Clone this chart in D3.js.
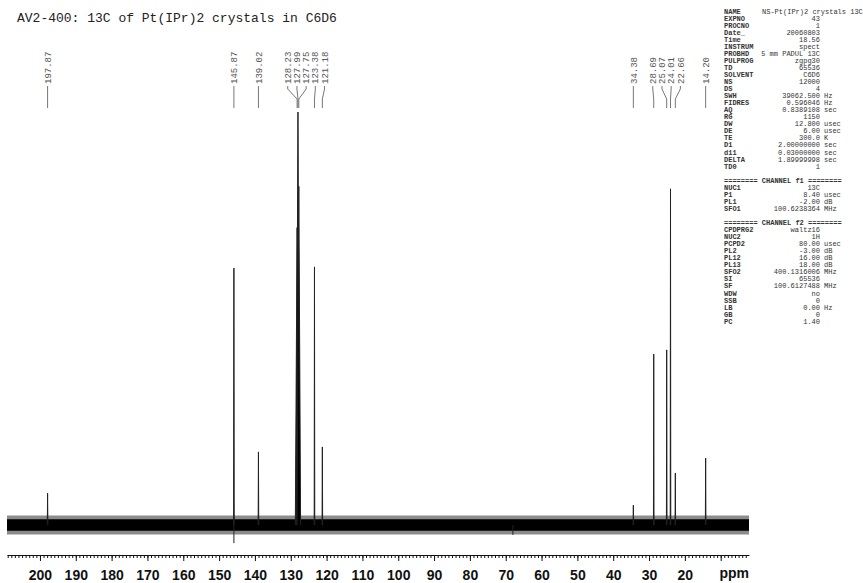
<!DOCTYPE html>
<html>
<head>
<meta charset="utf-8">
<script src="https://cdn.jsdelivr.net/npm/d3@7"></script>
<style>
	body { margin: 0; background: #fff; }
	svg { display: block; }
	.title { font-family: "Liberation Mono", monospace; font-size: 13px; fill: #222; }
	.peak-label { font-family: "Liberation Mono", monospace; font-size: 9px; fill: #555; }
	.param { font-family: "Liberation Mono", monospace; font-size: 7px; fill: #333; }
	.param-name { font-weight: bold; }
	.axis text { font-family: "Liberation Sans", Arial, sans-serif; font-size: 14px; font-weight: bold; fill: #111; }
</style>
</head>
<body>
<div id="chart"></div>
<script>
// peaks picked off the spectrum (ppm, relative intensity, half width at base in ppm)
var peakPpm    = [197.87, 145.87, 139.02, 128.23, 127.99, 127.75, 123.38, 121.18, 34.38, 28.69, 25.07, 24.01, 22.66, 14.20];
var peakHeight = [7.7, 62.2, 17.7, 72, 100, 82, 62.5, 18.9, 4.8, 41.4, 42.4, 81.4, 12.6, 16.2];
var peakWidth  = [0.08, 0.08, 0.08, 0.5, 0.5, 0.5, 0.08, 0.08, 0.08, 0.08, 0.08, 0.08, 0.08, 0.08];

// negative dips below the baseline
var dipPpm   = [145.87, 68.0];
var dipDepth = [-4.4, -2.4];

// baseline noise envelope (relative intensity)
var noiseCore = 1.4;
var noiseEdge = 2.3;

var majorTicks = [200, 190, 180, 170, 160, 150, 140, 130, 120, 110, 100, 90, 80, 70, 60, 50, 40, 30, 20, 10];
var minorTicks = d3.range(3, 210, 1);

var title = "AV2-400: 13C of Pt(IPr)2 crystals in C6D6";

// acquisition / processing parameters
var acqNames  = ["NAME", "EXPNO", "PROCNO", "Date_", "Time", "INSTRUM", "PROBHD", "PULPROG", "TD", "SOLVENT", "NS", "DS", "SWH", "FIDRES", "AQ", "RG", "DW", "DE", "TE", "D1", "d11", "DELTA", "TD0"];
var acqValues = ["NS-Pt(IPr)2 crystals 13C", "43", "1", "20060803", "18.56", "spect", "5 mm PADUL 13C", "zgpg30", "65536", "C6D6", "12000", "4", "39062.500", "0.596046", "0.8389108", "1150", "12.800", "6.00", "300.0", "2.00000000", "0.03000000", "1.89999998", "1"];
var acqUnits  = ["", "", "", "", "", "", "", "", "", "", "", "", "Hz", "Hz", "sec", "", "usec", "usec", "K", "sec", "sec", "sec", ""];

var f1Names  = ["NUC1", "P1", "PL1", "SFO1"];
var f1Values = ["13C", "8.40", "-2.00", "100.6238364"];
var f1Units  = ["", "usec", "dB", "MHz"];

var f2Names  = ["CPDPRG2", "NUC2", "PCPD2", "PL2", "PL12", "PL13", "SFO2", "SI", "SF", "WDW", "SSB", "LB", "GB", "PC"];
var f2Values = ["waltz16", "1H", "80.00", "-3.00", "16.00", "18.00", "400.1316006", "65536", "100.6127488", "no", "0", "0.00", "0", "1.40"];
var f2Units  = ["", "", "usec", "dB", "dB", "dB", "MHz", "", "MHz", "", "", "Hz", "", ""];


var canvas = {};

function addCanvas(cont) {
	canvas.width = 863;
	canvas.height = 583;
	canvas.svg = d3.select(cont).append("svg")
		.attr("width", canvas.width)
		.attr("height", canvas.height);

	canvas.x = d3.scaleLinear().domain([209.2, 2.1]).range([7, 749]);
	canvas.y = d3.scaleLinear().domain([0, 100]).range([525, 112]);
}


function drawTitle() {
	canvas.svg.append("text")
		.attr("class", "title")
		.attr("x", 17)
		.attr("y", 22)
		.text(title);
}


function drawSpectrum() {
	var x = canvas.x, y = canvas.y;
	var g = canvas.svg.append("g");

	// noise band
	var band = d3.area()
		.x((d) => x(d))
		.y0(y(-noiseEdge))
		.y1(y(noiseEdge));
	g.append("path")
		.attr("d", band(x.domain()))
		.attr("fill", "#000")
		.attr("opacity", 0.45);
	band.y0(y(-noiseCore)).y1(y(noiseCore));
	g.append("path")
		.attr("d", band(x.domain()))
		.attr("fill", "#000");

	var line = d3.line()
		.x((d) => x(d[0]))
		.y((d) => y(d[1]));

	peakPpm.forEach((p, i) => {
		var w = peakWidth[i];
		g.append("path")
			.attr("d", line([[p + w, 0], [p, peakHeight[i]], [p - w, 0]]))
			.attr("fill", "#000")
			.attr("stroke", "#222")
			.attr("stroke-width", 1);
	});

	dipPpm.forEach((p, i) => {
		g.append("path")
			.attr("d", line([[p, 0], [p, dipDepth[i]]]))
			.attr("stroke", "#222")
			.attr("stroke-width", 1);
	});
}


// spread crowded labels apart, each group centred on its peaks
function spreadLabels(xs, gap) {
	var groups = xs.map((v) => ({ members: [v], pos: [v] }));
	var merged = true;
	while (merged) {
		merged = false;
		for (var i = 0; i < groups.length - 1; i++) {
			var a = groups[i], b = groups[i + 1];
			if (a.pos[a.pos.length - 1] + gap > b.pos[0]) {
				var m = a.members.concat(b.members);
				var c = d3.mean(m);
				var n = m.length;
				groups.splice(i, 2, {
					members: m,
					pos: m.map((d, k) => c + (k - (n - 1) / 2) * gap)
				});
				merged = true;
				break;
			}
		}
	}
	return [].concat.apply([], groups.map((gr) => gr.pos));
}


function drawPeakLabels() {
	var x = canvas.x;
	var order = d3.range(peakPpm.length).sort((a, b) => x(peakPpm[a]) - x(peakPpm[b]));
	var px = order.map((i) => x(peakPpm[i]));
	var lx = spreadLabels(px, 9.2);
	var g = canvas.svg.append("g");

	order.forEach((i, k) => {
		g.append("path")
			.attr("d", d3.line()([[lx[k], 86], [lx[k], 89], [px[k], 99], [px[k], 108]]))
			.attr("fill", "none")
			.attr("stroke", "#777")
			.attr("stroke-width", 1);

		g.append("text")
			.attr("class", "peak-label")
			.attr("transform", "translate(" + lx[k] + ",84) rotate(-90)")
			.attr("dy", "0.35em")
			.text(peakPpm[i].toFixed(2));
	});
}


function drawAxis() {
	var x = canvas.x;
	var g = canvas.svg.append("g")
		.attr("class", "axis")
		.attr("transform", "translate(0,555)");

	g.call(d3.axisBottom(x)
		.tickValues(minorTicks)
		.tickSize(3)
		.tickSizeOuter(0)
		.tickFormat(""));

	var major = canvas.svg.append("g")
		.attr("class", "axis")
		.attr("transform", "translate(0,555)")
		.call(d3.axisBottom(x)
			.tickValues(majorTicks)
			.tickSize(6)
			.tickSizeOuter(0)
			.tickPadding(6)
			.tickFormat((d) => d == 10 ? "" : d));
	major.select(".domain").remove();
	major.selectAll("text").attr("dy", "0.95em");

	g.selectAll("line, path").attr("stroke", "#111");
	major.selectAll("line").attr("stroke", "#111");

	canvas.svg.append("text")
		.attr("class", "axis")
		.attr("x", 749)
		.attr("y", 578)
		.attr("text-anchor", "end")
		.style("font-family", "'Liberation Sans', Arial, sans-serif")
		.style("font-size", "14px")
		.style("font-weight", "bold")
		.style("fill", "#111")
		.text("ppm");
}


function drawParams() {
	var g = canvas.svg.append("g");
	var rows = [];

	acqNames.forEach((n, i) => rows.push({ name: n, value: acqValues[i], unit: acqUnits[i] }));
	rows.push(null);
	rows.push({ header: "======== CHANNEL f1 ========" });
	f1Names.forEach((n, i) => rows.push({ name: n, value: f1Values[i], unit: f1Units[i] }));
	rows.push(null);
	rows.push({ header: "======== CHANNEL f2 ========" });
	f2Names.forEach((n, i) => rows.push({ name: n, value: f2Values[i], unit: f2Units[i] }));

	rows.forEach((r, i) => {
		if (!r) { return; }
		var yy = 13.5 + i * 7.05;
		if (r.header) {
			g.append("text").attr("class", "param param-name")
				.attr("x", 724).attr("y", yy).text(r.header);
			return;
		}
		g.append("text").attr("class", "param param-name")
			.attr("x", 724).attr("y", yy).text(r.name);

		var v = g.append("text").attr("class", "param")
			.attr("y", yy).text(r.value);
		if (r.name == "NAME") {
			v.attr("x", 762);
		} else {
			v.attr("x", 820).attr("text-anchor", "end");
		}
		if (r.unit) {
			g.append("text").attr("class", "param")
				.attr("x", 824).attr("y", yy).text(r.unit);
		}
	});
}


function main() {
	addCanvas("#chart");
	drawTitle();
	drawSpectrum();
	drawPeakLabels();
	drawAxis();
	drawParams();
}

document.addEventListener("DOMContentLoaded", main);
</script>
</body>
</html>
